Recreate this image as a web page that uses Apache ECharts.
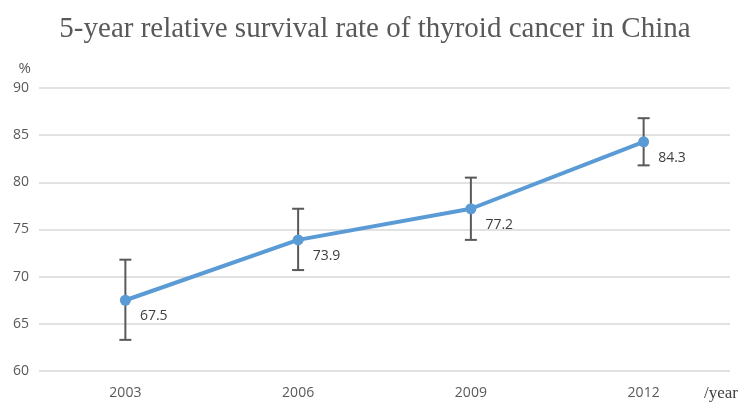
<!DOCTYPE html>
<html lang="en">
<head>
<meta charset="UTF-8">
<title>Thyroid cancer survival</title>
</head>
<body style="margin:0">
<div id="main" style="width:750px;height:407px"></div>
<script src="https://cdn.jsdelivr.net/npm/echarts@6/dist/echarts.min.js"></script>
<script>
var years = ['2003', '2006', '2009', '2012'];
var survival = [67.5, 73.9, 77.2, 84.3];
var errLow = [63.3, 70.7, 73.9, 81.8];
var errHigh = [71.8, 77.2, 80.5, 86.8];

var errData = [];
for (var i = 0; i < years.length; i++) {
    errData.push([i, errLow[i], errHigh[i]]);
}

var myChart = echarts.init(document.getElementById('main'));
myChart.setOption({
    backgroundColor: '#fff',
    animation: false,
    title: {
        text: '5-year relative survival rate of thyroid cancer in China',
        left: 'center',
        top: 10,
        textStyle: {
            fontFamily: 'Liberation Serif',
            fontWeight: 'normal',
            fontSize: 29,
            color: '#595959'
        }
    },
    grid: { left: 39, right: 20, top: 88, bottom: 36, outerBoundsMode: 'none', containLabel: false },
    xAxis: {
        type: 'category',
        data: years,
        name: '/year',
        nameLocation: 'end',
        nameGap: 0,
        nameTextStyle: { fontFamily: 'Liberation Serif', fontSize: 17, color: '#404040', align: 'left', verticalAlign: 'top', padding: [14, 0, 0, -26] },
        axisLine: { show: false },
        axisTick: { show: false },
        axisLabel: { fontFamily: 'Open Sans', fontSize: 14, color: '#595959', margin: 15 }
    },
    yAxis: {
        type: 'value',
        min: 60,
        max: 90,
        interval: 5,
        name: '%',
        nameLocation: 'end',
        nameGap: 12,
        nameTextStyle: { fontFamily: 'Open Sans', fontSize: 15, color: '#595959', align: 'right', padding: [0, 8, 0, 0] },
        axisLine: { show: false },
        axisTick: { show: false },
        axisLabel: { fontFamily: 'Open Sans', fontSize: 14, color: '#595959', margin: 10 },
        splitLine: { lineStyle: { color: '#d9d9d9', width: 1.5 } }
    },
    series: [
        {
            type: 'custom',
            data: errData,
            z: 1,
            renderItem: function (params, api) {
                var x = api.value(0);
                var lo = api.coord([x, api.value(1)]);
                var hi = api.coord([x, api.value(2)]);
                var w = 6;
                var st = { stroke: '#595959', lineWidth: 2 };
                return {
                    type: 'group',
                    children: [
                        { type: 'line', shape: { x1: lo[0], y1: lo[1], x2: hi[0], y2: hi[1] }, style: st },
                        { type: 'line', shape: { x1: lo[0] - w, y1: lo[1], x2: lo[0] + w, y2: lo[1] }, style: st },
                        { type: 'line', shape: { x1: hi[0] - w, y1: hi[1], x2: hi[0] + w, y2: hi[1] }, style: st }
                    ]
                };
            }
        },
        {
            type: 'line',
            data: survival,
            z: 2,
            symbol: 'circle',
            symbolSize: 11,
            lineStyle: { color: '#5B9BD5', width: 4 },
            itemStyle: { color: '#5B9BD5' },
            label: {
                show: true,
                position: 'right',
                offset: [4, 16],
                fontFamily: 'Open Sans',
                fontSize: 14,
                color: '#404040'
            }
        }
    ]
});
</script>
</body>
</html>
